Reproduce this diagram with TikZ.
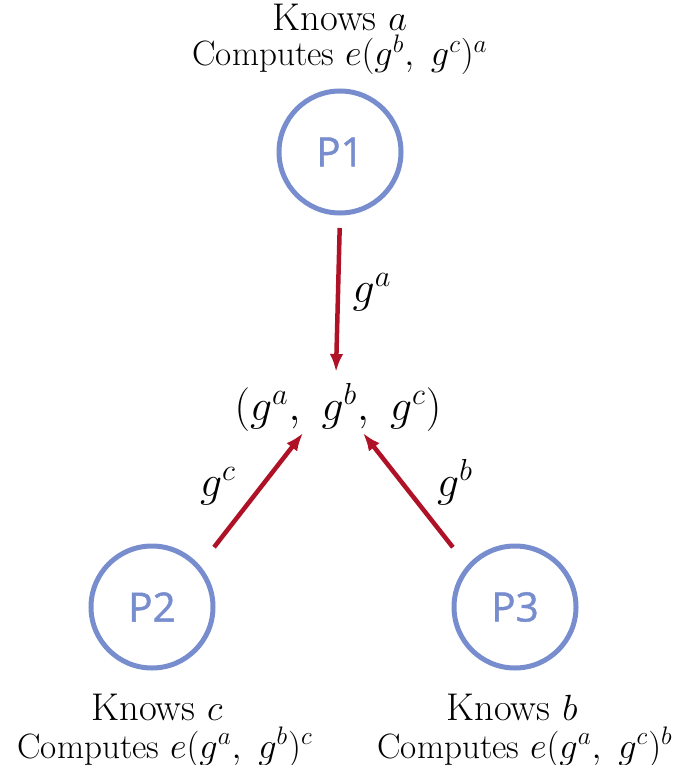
\documentclass[tikz,border=0pt]{standalone}
\usepackage{fontspec}
\newfontfamily\psans{Open Sans}[FakeBold=1.2]
\usetikzlibrary{arrows.meta}
\definecolor{pblue}{RGB}{120,141,206}
\definecolor{mred}{RGB}{175,18,38}
\begin{document}
\begin{tikzpicture}[
  proc/.style={draw=pblue, circle, line width=0.1cm, minimum size=2.44cm, inner sep=0pt, text=pblue, font=\psans\fontsize{23}{26}\selectfont},
  msg/.style={draw=mred, line width=0.09cm, -{Latex[length=0.36cm,width=0.27cm]}},
  know/.style={anchor=base, inner sep=0pt, font=\fontsize{22}{26}\selectfont},
  comp/.style={anchor=base, inner sep=0pt, font=\fontsize{20}{24}\selectfont},
  lbl/.style={anchor=base, inner sep=0pt, font=\fontsize{26}{30}\selectfont}
]
  \useasboundingbox (0,0) rectangle (13.6,-15.3);
  \node[proc] (p1) at (6.80,-3.04) {P1};
  \node[proc] (p2) at (3.04,-12.14) {P2};
  \node[proc] (p3) at (10.30,-12.14) {P3};
  \node[know] (kna) at (6.80,-0.62) {Knows $a$};
  \node[comp] (cpa) at (6.80,-1.32) {Computes $e(g^b,\ g^c)^a$};
  \node[know] (knc) at (3.14,-14.40) {Knows $c$};
  \node[comp] (cpc) at (3.30,-15.16) {Computes $e(g^a,\ g^b)^c$};
  \node[know] (knb) at (10.24,-14.40) {Knows $b$};
  \node[comp] (cpb) at (10.50,-15.16) {Computes $e(g^a,\ g^c)^b$};
  \node[lbl] (tuple) at (6.76,-8.40) {$(g^a,\ g^b,\ g^c)$};
  \coordinate (tipa) at (6.72,-7.44);
  \coordinate (tipc) at (6.06,-8.66);
  \coordinate (tipb) at (7.26,-8.66);
  \draw[msg, shorten <=0.25cm] (p1.south) -- (tipa);
  \draw[msg, shorten <=0.46cm] (p2.41) -- (tipc);
  \draw[msg, shorten <=0.46cm] (p3.139) -- (tipb);
  \node[lbl] (ga) at (7.44,-6.04) {$g^a$};
  \node[lbl] (gc) at (4.36,-9.92) {$g^c$};
  \node[lbl] (gb) at (9.10,-9.92) {$g^b$};
\end{tikzpicture}
\end{document}
